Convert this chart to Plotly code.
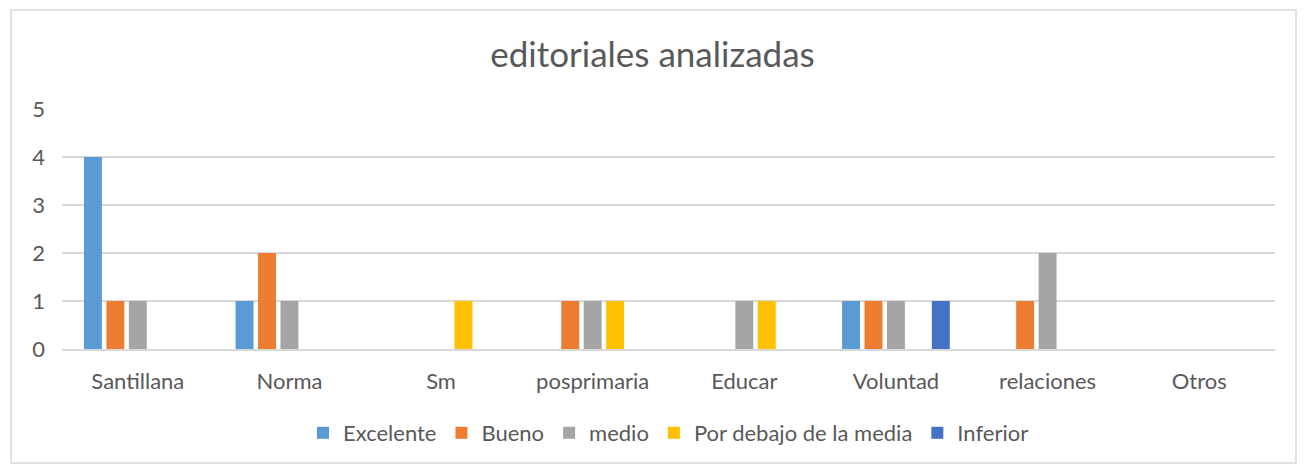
import plotly.graph_objects as go

categories = ["Santillana", "Norma", "Sm", "posprimaria", "Educar", "Voluntad", "relaciones", "Otros"]
excelente = [4, 1, 0, 0, 0, 1, 0, 0]
bueno = [1, 2, 0, 1, 0, 1, 1, 0]
medio = [1, 1, 0, 1, 1, 1, 2, 0]
por_debajo = [0, 0, 1, 1, 1, 0, 0, 0]
inferior = [0, 0, 0, 0, 0, 1, 0, 0]
y_ticks = [0, 1, 2, 3, 4, 5]

series = [
    ("Excelente", excelente, "#5B9BD5"),
    ("Bueno", bueno, "#ED7D31"),
    ("medio", medio, "#A5A5A5"),
    ("Por debajo de la media", por_debajo, "#FFC000"),
    ("Inferior", inferior, "#4472C4"),
]

font_family = "Lato, 'Open Sans', sans-serif"
fig = go.Figure()
for name, vals, color in series:
    fig.add_trace(go.Bar(name=name, x=categories, y=vals, marker_color=color,
                         marker_line_width=0))

fig.update_layout(
    width=1305, height=466,
    paper_bgcolor="white", plot_bgcolor="white",
    margin=dict(l=62, r=30, t=109, b=117),
    barmode="group", bargap=0.26, bargroupgap=0.2,
    font=dict(family=font_family, color="#595959", size=22),
    title=dict(text="editoriales analizadas", x=0.5, xanchor="center",
               y=1 - 55 / 466, yanchor="middle",
               font=dict(size=35, color="#595959", family=font_family)),
    legend=dict(orientation="h", x=0.5, xanchor="center", y=-0.35, yanchor="middle",
                font=dict(size=22, color="#595959"), itemwidth=30,
                traceorder="normal"),
    xaxis=dict(showgrid=False, showline=True, linecolor="#D9D9D9", linewidth=1.5,
               ticks="", ticklabelstandoff=12, tickfont=dict(size=22)),
    yaxis=dict(range=[0, 5], tickvals=y_ticks, showgrid=True, gridcolor="#D9D9D9",
               gridwidth=1.5, zeroline=False, showline=False, ticks="",
               ticklabelstandoff=16, tickfont=dict(size=22)),
    shapes=[dict(type="rect", xref="paper", yref="paper",
                 x0=(11 - 62) / 1213, x1=(1296 - 62) / 1213,
                 y0=(349 - 463) / 240, y1=(349 - 10) / 240,
                 line=dict(color="#D9D9D9", width=1.5), fillcolor="rgba(0,0,0,0)",
                 layer="below")],
)

fig.write_html("out.html", config={"displayModeBar": False},
               post_script="document.body.style.margin='0';")
